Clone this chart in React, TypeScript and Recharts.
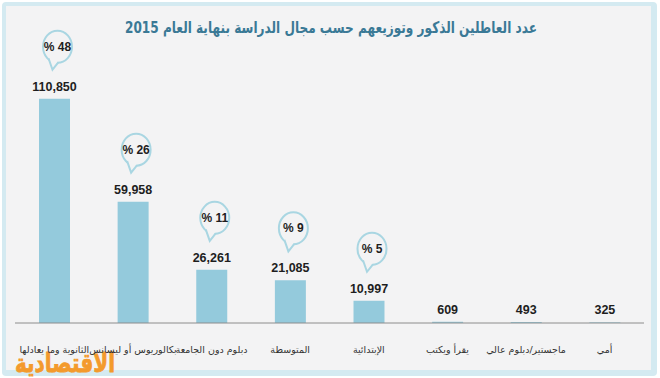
import React from "react";
import { BarChart, Bar, XAxis, YAxis, LabelList } from "recharts";

const CATEGORIES = [
  "الثانوية وما يعادلها",
  "بكالوريوس أو ليسانس",
  "دبلوم دون الجامعة",
  "المتوسطة",
  "الإبتدائية",
  "يقرأ ويكتب",
  "ماجستير/دبلوم عالي",
  "أمي",
];
const VALUES = [110850, 59958, 26261, 21085, 10997, 609, 493, 325];
const PCTS: (number | null)[] = [48, 26, 11, 9, 5, null, null, null];

const TITLE = "عدد العاطلين الذكور وتوزيعهم حسب مجال الدراسة بنهاية العام 2015";
const LOGO = "الاقتصادية";

const data = CATEGORIES.map((name, i) => ({ name, value: VALUES[i], pct: PCTS[i] }));

const BG = "#f3f3f4";
const FRAME = "#d4eaf1";
const BAR = "#94cadc";
const BUBBLE = "#a9d6e2";

const fmt = (v: number) => v.toLocaleString("en-US");

function ValueLabel(props: any) {
  const { x, y, width, index } = props;
  const cx = x + width / 2;
  const pct = PCTS[index];
  const v = VALUES[index];
  const bx = cx + 3;
  const by = y - 52;
  return (
    <g>
      <text
        x={cx}
        y={y - 8}
        textAnchor="middle"
        fontFamily="'Liberation Sans', Arial, sans-serif"
        fontWeight="bold"
        fontSize={12.5}
        fill="#1e1e1e"
      >
        {fmt(v)}
      </text>
      {pct != null && (
        <g>
          <ellipse cx={bx} cy={by} rx={14.5} ry={16} fill={BG} stroke={BUBBLE} strokeWidth={2} />
          <polygon
            points={`${bx - 9},${by + 11} ${bx - 5},${by + 23} ${bx + 1},${by + 14}`}
            fill={BG}
            stroke="none"
          />
          <polyline
            points={`${bx - 9},${by + 11.5} ${bx - 5},${by + 23} ${bx + 1},${by + 15.5}`}
            fill="none"
            stroke={BUBBLE}
            strokeWidth={2}
          />
          <text
            x={bx}
            y={by + 4}
            textAnchor="middle"
            fontFamily="'Liberation Sans', Arial, sans-serif"
            fontWeight="bold"
            fontSize={12}
            fill="#1e1e1e"
          >
            {`% ${pct}`}
          </text>
        </g>
      )}
    </g>
  );
}

function CatTick(props: any) {
  const { x, y, payload } = props;
  return (
    <text
      x={x}
      y={y + 22}
      textAnchor="middle"
      fontFamily="'DejaVu Sans', sans-serif"
      fontSize={9.5}
      fill="#333"
    >
      {payload.value}
    </text>
  );
}

export default function App() {
  return (
    <div style={{ position: "absolute", left: 0, top: 0, width: 660, height: 378, background: "#fff" }}>
      <div
        style={{
          position: "absolute",
          left: 2,
          top: 2,
          width: 655,
          height: 374,
          background: FRAME,
          borderRadius: 4,
        }}
      />
      <div
        style={{ position: "absolute", left: 6, top: 6, width: 645, height: 364, background: BG }}
      />
      <div style={{ position: "absolute", left: 0, top: 0 }}>
        <BarChart
          width={660}
          height={378}
          data={data}
          margin={{ top: 60, right: 16, bottom: 15, left: 15 }}
        >
          <XAxis
            dataKey="name"
            height={40}
            tickLine={false}
            axisLine={{ stroke: "#8c8c8c", strokeWidth: 1 }}
            interval={0}
            tick={<CatTick />}
          />
          <YAxis hide domain={[0, 130000]} />
          <Bar dataKey="value" fill={BAR} barSize={31} isAnimationActive={false}>
            <LabelList dataKey="value" content={<ValueLabel />} />
          </Bar>
          <text
            x={331}
            y={33}
            textAnchor="middle"
            fontFamily="'DejaVu Sans', sans-serif"
            fontWeight="bold"
            fontSize={16}
            fill="#3a7996"
            textLength={412}
            lengthAdjust="spacingAndGlyphs"
          >
            {TITLE}
          </text>
          <text
            x={65}
            y={372}
            textAnchor="middle"
            fontFamily="'DejaVu Sans', sans-serif"
            fontWeight="bold"
            fontSize={26}
            fill="#f39a2c"
            stroke="#f39a2c"
            strokeWidth={0.8}
            textLength={100}
            lengthAdjust="spacingAndGlyphs"
          >
            {LOGO}
          </text>
        </BarChart>
      </div>
    </div>
  );
}
